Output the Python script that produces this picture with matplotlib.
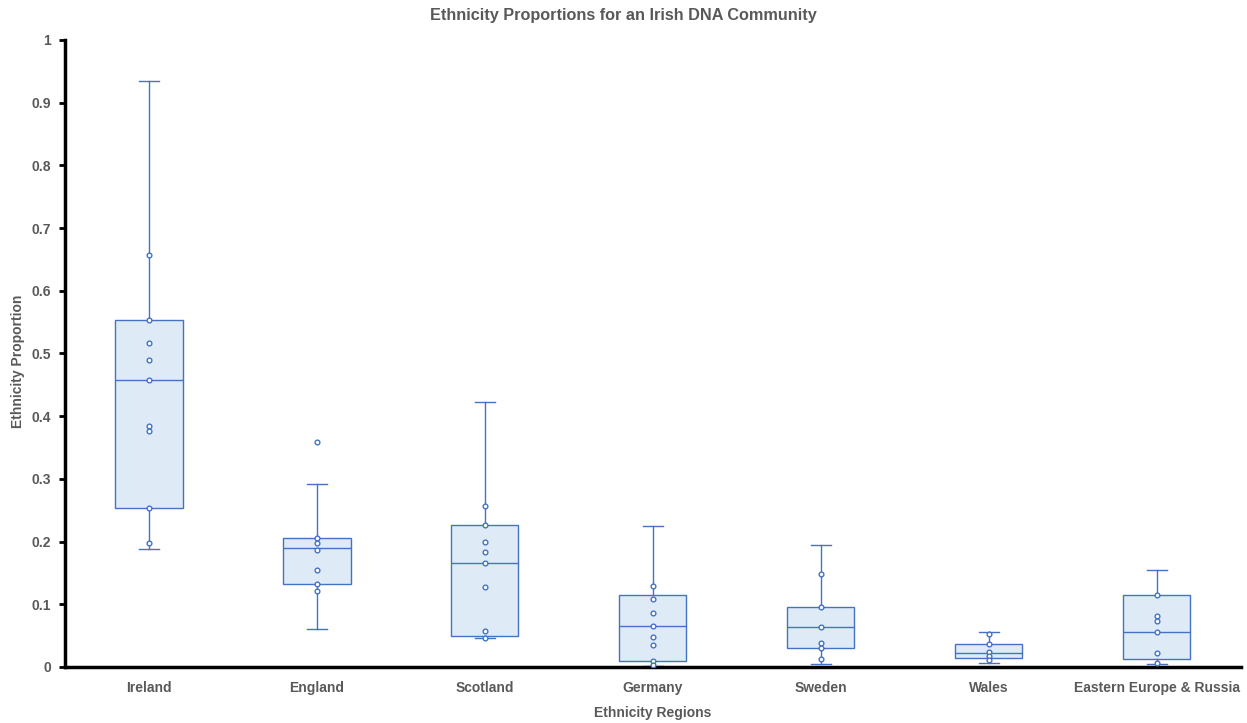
import matplotlib
matplotlib.use("Agg")
import matplotlib.pyplot as plt

# -----------------------------
# Data
# -----------------------------
regions = ["Ireland", "England", "Scotland", "Germany", "Sweden", "Wales",
           "Eastern Europe & Russia"]

whisker_low = [0.188, 0.061, 0.046, 0.002, 0.004, 0.006, 0.005]
q1 = [0.254, 0.132, 0.050, 0.010, 0.031, 0.014, 0.012]
median = [0.458, 0.190, 0.166, 0.065, 0.064, 0.022, 0.056]
q3 = [0.553, 0.206, 0.227, 0.114, 0.096, 0.037, 0.115]
whisker_high = [0.935, 0.292, 0.422, 0.225, 0.194, 0.055, 0.155]

points = [
    [0.657, 0.553, 0.517, 0.489, 0.458, 0.385, 0.376, 0.254, 0.197],
    [0.359, 0.206, 0.198, 0.186, 0.155, 0.132, 0.121],
    [0.257, 0.227, 0.200, 0.183, 0.166, 0.128, 0.057, 0.046],
    [0.129, 0.109, 0.086, 0.065, 0.048, 0.035, 0.010, 0.003],
    [0.148, 0.096, 0.064, 0.038, 0.031, 0.012],
    [0.052, 0.036, 0.024, 0.018, 0.011],
    [0.115, 0.081, 0.073, 0.056, 0.023, 0.006],
]

edge = "#4472C4"
fill = "#DEEBF7"
text_grey = "#595959"

fig = plt.figure(figsize=(12.47, 7.23), dpi=100)
ax = fig.add_axes([0.0521, 0.0775, 0.9429, 0.8672])

stats = []
for i, name in enumerate(regions):
    stats.append({
        "label": name,
        "whislo": whisker_low[i],
        "q1": q1[i],
        "med": median[i],
        "q3": q3[i],
        "whishi": whisker_high[i],
        "fliers": [],
    })

positions = list(range(1, len(regions) + 1))
ax.bxp(
    stats,
    positions=positions,
    widths=0.40,
    patch_artist=True,
    showfliers=False,
    boxprops=dict(facecolor=fill, edgecolor=edge, linewidth=1.0),
    medianprops=dict(color=edge, linewidth=1.0),
    whiskerprops=dict(color=edge, linewidth=1.0),
    capprops=dict(color=edge, linewidth=1.0),
    capwidths=0.12,
)

# inner points
for pos, vals in zip(positions, points):
    ax.plot([pos] * len(vals), vals, linestyle="none", marker="o",
            markersize=3.4, markerfacecolor="white", markeredgecolor=edge,
            markeredgewidth=1.0, zorder=5)

ax.set_xlim(0.5, len(regions) + 0.5)
ax.set_ylim(0, 1)
ax.set_yticks([i / 10 for i in range(11)])
ax.set_yticklabels(["0", "0.1", "0.2", "0.3", "0.4", "0.5", "0.6", "0.7",
                    "0.8", "0.9", "1"])
ax.set_xticks(positions)
ax.set_xticklabels(regions)

for side in ["top", "right"]:
    ax.spines[side].set_visible(False)
for side in ["left", "bottom"]:
    ax.spines[side].set_linewidth(2.5)
    ax.spines[side].set_color("black")

ax.tick_params(axis="y", length=4, width=2, color="black", pad=6,
               labelcolor=text_grey, labelsize=10)
ax.tick_params(axis="x", length=0, pad=10, labelcolor=text_grey, labelsize=10)
for lab in ax.get_xticklabels() + ax.get_yticklabels():
    lab.set_fontweight("bold")
    lab.set_family("Liberation Sans")

fig.text(0.5, 0.978, "Ethnicity Proportions for an Irish DNA Community",
         ha="center", va="center", fontsize=11.7, fontweight="bold",
         color=text_grey, family="Liberation Sans")
fig.text(0.0145, 0.5, "Ethnicity Proportion", rotation=90,
         ha="center", va="center", fontsize=10, fontweight="bold",
         color=text_grey, family="Liberation Sans")
ax.set_xlabel("Ethnicity Regions", fontsize=10, fontweight="bold",
              color=text_grey, family="Liberation Sans", labelpad=8)

fig.savefig("out.png", dpi=100)
